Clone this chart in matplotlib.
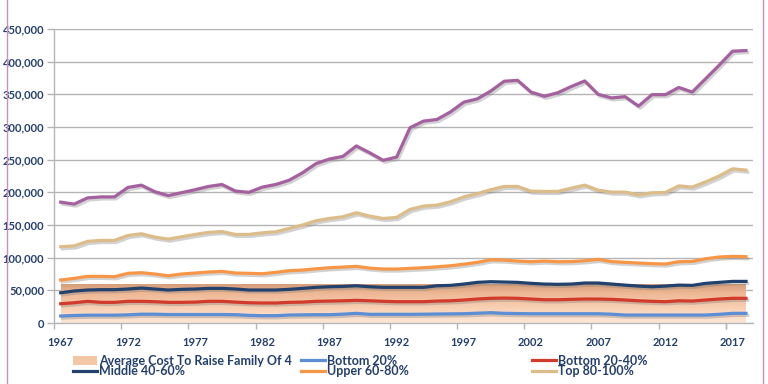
import numpy as np
import matplotlib
matplotlib.use("Agg")
import matplotlib.pyplot as plt
import matplotlib.patheffects as pe
from matplotlib.colors import LinearSegmentedColormap
from matplotlib.lines import Line2D
from matplotlib.patches import Patch
from matplotlib.ticker import FuncFormatter

# ---------------- data ----------------
years = list(range(1967, 2019))

top_5 = [185000, 182000, 191500, 193000, 193000, 207500, 211000, 201000, 195000, 199500,
         204000, 209000, 212000, 202000, 200000, 208000, 212000, 218500, 230000, 244000,
         251000, 255000, 271000, 260500, 249000, 254000, 299000, 309000, 311500, 323000,
         338000, 343000, 355000, 370000, 371500, 353500, 347000, 352500, 362000, 370500,
         350000, 344500, 346500, 332000, 349500, 349500, 360500, 353500, 374000, 394500,
         416000, 417000]

top_80_100 = [116700, 118000, 125000, 126400, 126400, 134000, 136600, 131500, 128400, 132000,
              135600, 138700, 140000, 135600, 135600, 138000, 139600, 144800, 150000, 156500,
              160000, 162600, 168700, 163600, 160000, 161600, 173900, 179000, 180400, 185500,
              193000, 198000, 204000, 209000, 209000, 201800, 201400, 201400, 206400, 211000,
              203400, 200300, 200300, 196200, 199300, 199800, 209900, 208000, 216000, 225000,
              236000, 234000]

upper_60_80 = [65800, 68300, 71400, 71400, 70800, 76000, 77000, 75000, 72300, 75000,
               76500, 78000, 79000, 76500, 76000, 75400, 77500, 80000, 81000, 83000,
               84600, 85600, 86700, 84000, 82600, 82600, 83600, 84600, 86000, 87600,
               90000, 92800, 96800, 96300, 94800, 93800, 94800, 93800, 94000, 95300,
               97300, 94000, 92800, 91800, 90800, 90300, 93800, 94300, 98300, 101000,
               102000, 101500]

middle_40_60 = [46300, 49000, 50500, 51000, 51000, 52000, 53500, 52000, 50500, 51500,
                52000, 53000, 53000, 52000, 50500, 50500, 50500, 51500, 53000, 54600,
                55500, 56000, 57000, 55500, 54600, 54600, 54600, 54600, 57000, 57600,
                59600, 62200, 63200, 62700, 62200, 60700, 59600, 59200, 59600, 61200,
                61200, 59600, 58000, 56500, 55500, 56500, 58000, 57600, 60700, 62200,
                63700, 63700]

bottom_20_40 = [29500, 31000, 33200, 31600, 31600, 33200, 33200, 32600, 31600, 31600,
                32000, 33200, 33200, 32000, 31000, 30600, 30600, 31600, 32000, 33200,
                33600, 34000, 34700, 34000, 33200, 32600, 32600, 32600, 33600, 34000,
                35200, 36700, 37800, 38200, 37800, 36700, 35600, 35600, 36200, 36700,
                36700, 36200, 35200, 34000, 33200, 32600, 34000, 33600, 35200, 36700,
                37800, 37800]

bottom_20 = [10700, 11500, 12000, 12000, 12000, 12500, 13500, 13500, 13000, 13000,
             13000, 13000, 13000, 12700, 11700, 11200, 11200, 12200, 12500, 12700,
             12700, 13500, 14800, 13300, 13300, 13300, 13300, 13500, 13800, 14000,
             14200, 15000, 15800, 14800, 14500, 14200, 14200, 14200, 14200, 14200,
             14200, 13500, 12200, 12200, 12200, 12200, 12200, 12200, 12200, 13300,
             14800, 14800]

avg_cost = [60000, 60000, 60000, 60000, 60000, 60000, 60000, 60000, 60000, 60000,
            60000, 60000, 60000, 60000, 60000, 60000, 60000, 60000, 60000, 60000,
            60000, 60000, 60000, 60000, 60000, 60000, 60000, 60000, 60000, 60000,
            60000, 60000, 60000, 60000, 60000, 60000, 60000, 60000, 60000, 60000,
            60000, 60000, 60000, 60000, 60000, 60000, 60000, 60000, 60000, 60000,
            60000, 60000]

label_years = list(range(1967, 2018, 5))
y_ticks = list(range(0, 450001, 50000))

# ---------------- style ----------------
txt_col = '#243f6b'
grid_col = '#b5b5b5'
plt.rcParams['font.family'] = ['Lato', 'DejaVu Sans']
plt.rcParams['font.weight'] = 'bold'

fig = plt.figure(figsize=(7.68, 3.84), dpi=100)
ax = fig.add_axes([54 / 768, 1 - 323 / 384, (752.7 - 54) / 768, (323 - 29) / 384])

# gradient area for the average cost
cmap = LinearSegmentedColormap.from_list(
    'cost', [(0.0, '#fde7d8'), (0.35, '#f9d2b7'), (0.75, '#eeb794'), (1.0, '#d29a77')])
area = ax.fill_between(years, 0, avg_cost, color='none', lw=0, zorder=1)
grad = np.linspace(1, 0, 256).reshape(-1, 1)
im = ax.imshow(grad, aspect='auto', cmap=cmap, origin='upper',
               extent=[years[0], years[-1], 0, max(avg_cost)], zorder=1.5)
im.set_clip_path(area.get_paths()[0], transform=ax.transData)

shadow = [pe.SimpleLineShadow(offset=(1.2, -1.5), shadow_color='#808080', alpha=0.35),
          pe.Normal()]

series = [
    (bottom_20, '#5b8ed4', 'Bottom 20%'),
    (bottom_20_40, '#d23a2b', 'Bottom 20-40%'),
    (middle_40_60, '#22416c', 'Middle 40-60%'),
    (upper_60_80, '#f79646', 'Upper 60-80%'),
    (top_80_100, '#dcbc88', 'Top 80-100%'),
    (top_5, '#a4609f', None),
]
handles = {}
for vals, col, name in series:
    ax.plot(years, vals, color=col, lw=2.3, zorder=3, path_effects=shadow,
            solid_joinstyle='round')
    if name:
        handles[name] = Line2D([], [], color=col, lw=2.3)

ax.set_xlim(1966.5, 2018.5)
ax.set_ylim(0, 450000)

ax.set_yticks(y_ticks)
ax.yaxis.set_major_formatter(FuncFormatter(lambda v, p: f"{v:,.0f}"))
ax.yaxis.grid(True, color=grid_col, lw=1.0, zorder=0)
ax.set_axisbelow(True)

ax.set_xticks(label_years)
ax.set_xticks([y - 0.5 for y in label_years] + [2016.5], minor=True)
ax.tick_params(axis='x', which='major', length=0, pad=10, labelsize=8, labelcolor=txt_col)
ax.tick_params(axis='x', which='minor', length=4, color=grid_col, width=1)
ax.tick_params(axis='y', length=5, color=grid_col, width=1, pad=2, labelsize=8,
               labelcolor=txt_col)
for lab in ax.get_xticklabels() + ax.get_yticklabels():
    lab.set_fontweight('bold')

for s in ['top', 'right']:
    ax.spines[s].set_visible(False)
for s in ['left', 'bottom']:
    ax.spines[s].set_color(grid_col)
    ax.spines[s].set_linewidth(1)

# legend: three columns of two rows
cost_patch = Patch(facecolor='#f3c6a6', edgecolor='none')
cols = [
    (73, [cost_patch, handles['Middle 40-60%']],
     ['Average Cost To Raise Family Of 4', 'Middle 40-60%']),
    (301, [handles['Bottom 20%'], handles['Upper 60-80%']],
     ['Bottom 20%', 'Upper 60-80%']),
    (532, [handles['Bottom 20-40%'], handles['Top 80-100%']],
     ['Bottom 20-40%', 'Top 80-100%']),
]
for x0, hs, labs in cols:
    leg = fig.legend(hs, labs, loc='center left', bbox_to_anchor=(x0 / 768, 1 - 366 / 384),
                     frameon=False, fontsize=9, handlelength=1.9, handleheight=0.8,
                     handletextpad=0.2, labelspacing=-0.1, borderpad=0, borderaxespad=0)
    for t in leg.get_texts():
        t.set_color(txt_col)
        t.set_fontweight('bold')

# thin frame lines at the figure sides
for xp in (6.5, 762.5):
    fig.add_artist(Line2D([xp / 768, xp / 768], [0, 1], transform=fig.transFigure,
                          color='#c98fbd', lw=1))

fig.savefig('out.png', dpi=100)
